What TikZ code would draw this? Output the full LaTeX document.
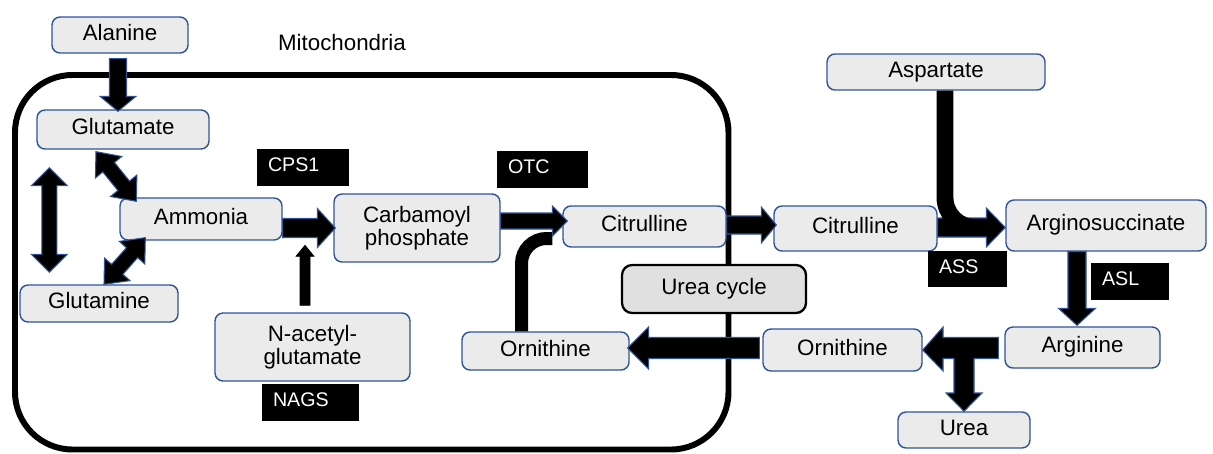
\documentclass[tikz,border=0pt]{standalone}
\usepackage{fontspec}
\setmainfont{Liberation Sans}
\usetikzlibrary{calc}
\definecolor{nodefill}{HTML}{EBEBEB}
\definecolor{nodeline}{HTML}{2F5597}
\definecolor{cyclefill}{HTML}{E0E0E0}
\tikzset{
  boxbase/.style={draw=nodeline, fill=nodefill, line width=0.8pt, rounded corners=0.16cm, inner sep=0pt, align=center, font=\fontsize{12.7}{13}\selectfont},
  box/.style={boxbase, text height=9.7pt, text depth=3.5pt},
  twoline/.style={boxbase},
  cyclebox/.style={draw=black, fill=cyclefill, line width=1.3pt, rounded corners=0.2cm, inner sep=0pt, align=center, text height=9.7pt, text depth=3.5pt, font=\fontsize{12.7}{13}\selectfont},
  enz/.style={fill=black, text=white, inner xsep=0.22cm, inner ysep=0pt, align=left, text height=7.6pt, text depth=3pt, font=\fontsize{11.2}{13}\selectfont},
  arr/.style={fill=black, draw=nodeline, line width=0.6pt, line join=miter},
  thinarr/.style={fill=black},
  feed/.style={draw=black, line cap=butt},
  membrane/.style={draw=black, line width=3.4pt, rounded corners=1.15cm},
}
% single block arrow: [style] A, B, half shaft, half head, head length
\newcommand{\sarrow}[6][arr]{%
  \coordinate (hb) at ($(#3)!#6!(#2)$);
  \draw[#1] ($(#2)!#4!90:(#3)$) -- ($(hb)!#4!90:(#3)$) -- ($(hb)!#5!90:(#3)$) -- (#3)
    -- ($(hb)!#5!-90:(#3)$) -- ($(hb)!#4!-90:(#3)$) -- ($(#2)!#4!-90:(#3)$) -- cycle;}
% double block arrow
\newcommand{\darrow}[5]{%
  \coordinate (hb1) at ($(#2)!#5!(#1)$);
  \coordinate (hb2) at ($(#1)!#5!(#2)$);
  \draw[arr] (#1) -- ($(hb2)!#4!90:(#2)$) -- ($(hb2)!#3!90:(#2)$) -- ($(hb1)!#3!90:(#2)$)
    -- ($(hb1)!#4!90:(#2)$) -- (#2) -- ($(hb1)!#4!-90:(#2)$) -- ($(hb1)!#3!-90:(#2)$)
    -- ($(hb2)!#3!-90:(#2)$) -- ($(hb2)!#4!-90:(#2)$) -- cycle;}
\begin{document}
\begin{tikzpicture}[x=0.02cm, y=-0.02cm]
\useasboundingbox (0,0) rectangle (1213,453);
% mitochondria
\draw[membrane] (15,75) rectangle (728.5,449.5);
\node[font=\fontsize{12.7}{13}\selectfont] (mito) at (342,43) {Mitochondria};
% nodes
\node[box, minimum width=2.72cm, minimum height=0.72cm] (ala) at (120,35) {Alanine};
\node[box, minimum width=3.44cm, minimum height=0.78cm] (glu) at (123,129.5) {Glutamate};
\node[box, minimum width=3.24cm, minimum height=0.84cm] (amm) at (201,219) {Ammonia};
\node[box, minimum width=3.16cm, minimum height=0.74cm] (gln) at (99,303.5) {Glutamine};
\node[twoline, minimum width=3.32cm, minimum height=1.36cm] (carb) at (417,228) {Carbamoyl\\phosphate};
\node[twoline, minimum width=3.9cm, minimum height=1.36cm] (nag) at (312.5,347) {N-acetyl-\\glutamate};
\node[box, minimum width=3.26cm, minimum height=0.82cm] (citin) at (644.5,226.5) {Citrulline};
\node[box, minimum width=3.34cm, minimum height=0.76cm] (ornin) at (545.5,351) {Ornithine};
\node[cyclebox, minimum width=3.68cm, minimum height=0.96cm] (cycle) at (714,289) {Urea cycle};
\node[box, minimum width=3.26cm, minimum height=0.9cm] (citout) at (855.5,228.5) {Citrulline};
\node[box, minimum width=4.36cm, minimum height=0.72cm] (asp) at (936,72) {Aspartate};
\node[box, minimum width=4.0cm, minimum height=1.02cm] (argsuc) at (1106,225.5) {Arginosuccinate};
\node[box, minimum width=3.1cm, minimum height=0.82cm] (argi) at (1082.5,347.5) {Arginine};
\node[box, minimum width=3.18cm, minimum height=0.84cm] (ornout) at (842.5,350) {Ornithine};
\node[box, minimum width=2.64cm, minimum height=0.72cm] (urea) at (964,430) {Urea};
% enzymes
\node[enz, text width=1.40cm, minimum height=0.74cm] (cps) at (303,167.5) {CPS1};
\node[enz, text width=1.38cm, minimum height=0.74cm] (otc) at (542.5,169.5) {OTC};
\node[enz, text width=1.14cm, minimum height=0.72cm] (ass) at (967.5,269) {ASS};
\node[enz, text width=1.12cm, minimum height=0.74cm] (asl) at (1130,281.5) {ASL};
\node[enz, text width=1.50cm, minimum height=0.74cm] (nags) at (310.5,402.5) {NAGS};
% connector end points
\coordinate (a1s) at ($(ala.south)+(-2,5)$);
\coordinate (a1e) at ($(glu.north)+(-5,2)$);
\coordinate (a2s) at ($(glu.south)+(-27,2)$);
\coordinate (a2e) at ($(amm.north west)+(17,4)$);
\coordinate (a3s) at ($(glu.south west)+(13,18)$);
\coordinate (a3e) at ($(gln.north west)+(30,-12)$);
\coordinate (a4s) at ($(amm.south west)+(26,-3)$);
\coordinate (a4e) at ($(gln.north)+(5,0)$);
\coordinate (a5s) at ($(amm.east)+(0,9)$);
\coordinate (a5e) at ($(carb.west)+(2,0)$);
\coordinate (a6s) at ($(carb.east)+(0,-7)$);
\coordinate (a6e) at ($(citin.west)+(5,-5.5)$);
\coordinate (a7s) at ($(citin.east)+(0,-1.5)$);
\coordinate (a7e) at ($(citout.west)+(3,-3.5)$);
\coordinate (a8s) at ($(citout.east)+(0,-1)$);
\coordinate (a8e) at ($(argsuc.west)+(0,2)$);
\coordinate (a9s) at ($(argsuc.south)+(-29,0)$);
\coordinate (a9e) at ($(argi.north)+(-5.5,-1)$);
\coordinate (a10s) at ($(ornout.west)+(-3,-2)$);
\coordinate (a10e) at ($(ornin.east)+(-2,-3)$);
\coordinate (nas) at ($(nag.north)+(-7.5,-7)$);
\coordinate (nae) at ($(nag.north)+(-7.5,-67)$);
% connectors
\sarrow{a1s}{a1e}{0.17cm}{0.36cm}{0.30cm}
\darrow{a2s}{a2e}{0.15cm}{0.34cm}{0.40cm}
\darrow{a3s}{a3e}{0.15cm}{0.36cm}{0.36cm}
\darrow{a4s}{a4e}{0.15cm}{0.34cm}{0.40cm}
\sarrow{a5s}{a5e}{0.19cm}{0.39cm}{0.36cm}
\sarrow[thinarr]{nas}{nae}{0.10cm}{0.18cm}{0.22cm}
\draw[feed, line width=7.4pt, rounded corners=0.5cm] ($(ornin.north)+(-24,0)$) |- ($(citin.west)+(-10,12)$);
\sarrow{a6s}{a6e}{0.16cm}{0.30cm}{0.30cm}
\sarrow{a7s}{a7e}{0.18cm}{0.36cm}{0.30cm}
\sarrow{a8s}{a8e}{0.19cm}{0.39cm}{0.38cm}
\draw[feed, line width=9.6pt, rounded corners=0.6cm] ($(asp.south)+(9,0)$) |- ($(argsuc.west)+(-21,2)$);
\sarrow{a9s}{a9e}{0.18cm}{0.37cm}{0.34cm}
\sarrow{a10s}{a10e}{0.21cm}{0.42cm}{0.42cm}
% T-shaped split: Arginine -> Ornithine and Urea
\draw[arr] ($(argi.west)+(-6,-10)$) -- (943,337.5) -- (943,327) -- (ornout.east) -- (943,371)
  -- (943,358.5) -- (954,358.5) -- (954,393) -- (946,393) -- (urea.north) -- (982,393)
  -- (974,393) -- (974,358.5) -- ($(argi.west)+(-6,11)$) -- cycle;
\end{tikzpicture}
\end{document}
